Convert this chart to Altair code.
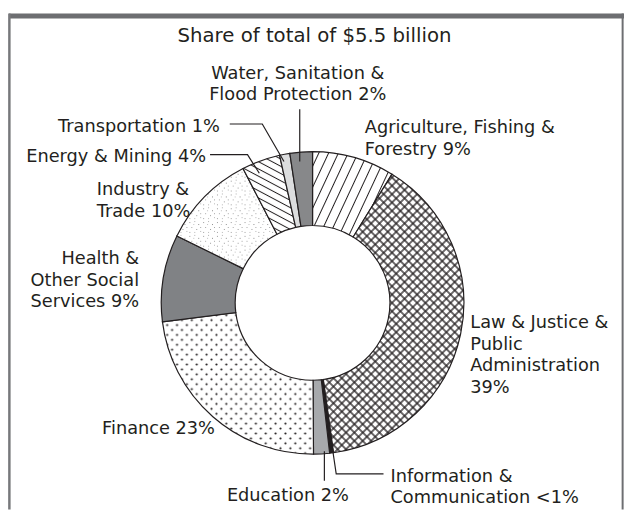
import altair as alt
import pandas as pd

# ---------------- data ----------------
sectors = [
    "Agriculture, Fishing & Forestry",
    "Law & Justice & Public Administration",
    "Information & Communication",
    "Education",
    "Finance",
    "Health & Other Social Services",
    "Industry & Trade",
    "Energy & Mining",
    "Transportation",
    "Water, Sanitation & Flood Protection",
]
shares = [8.8, 39.0, 0.4, 1.7, 23.1, 9.3, 10.1, 4.1, 1.1, 2.4]

# ---------------- styles ----------------
INK = "#231f20"
slice_fills = [
    "url(#pAgri) #ffffff",
    "url(#pCross) #8a8a8a",
    INK,
    "#a7a9ac",
    "url(#pDots) #eeeeee",
    "#808285",
    "url(#pStip) #f2f2f2",
    "url(#pEnergy) #ffffff",
    "#dcddde",
    "#87888a",
]

PATTERN_DEFS = """
<svg width="0" height="0" style="position:absolute;left:0;top:0;width:0;height:0" aria-hidden="true">
<defs>
<pattern id="pAgri" patternUnits="userSpaceOnUse" width="9" height="9" patternTransform="rotate(25)">
<rect width="9" height="9" fill="#ffffff"/>
<line x1="4.5" y1="-1" x2="4.5" y2="10" stroke="#231f20" stroke-width="1"/>
</pattern>
<pattern id="pEnergy" patternUnits="userSpaceOnUse" width="6.5" height="6.5" patternTransform="rotate(28)">
<rect width="6.5" height="6.5" fill="#ffffff"/>
<line x1="-1" y1="3.25" x2="7.5" y2="3.25" stroke="#231f20" stroke-width="1"/>
</pattern>
<pattern id="pCross" patternUnits="userSpaceOnUse" width="6" height="6" patternTransform="rotate(45)">
<rect width="6" height="6" fill="#ffffff"/>
<line x1="3" y1="-1" x2="3" y2="7" stroke="#231f20" stroke-width="1.35"/>
<line x1="-1" y1="3" x2="7" y2="3" stroke="#231f20" stroke-width="1.35"/>
</pattern>
<pattern id="pDots" patternUnits="userSpaceOnUse" width="10" height="10">
<rect width="10" height="10" fill="#ffffff"/>
<circle cx="2.5" cy="2.5" r="1.1" fill="#231f20"/>
<circle cx="7.5" cy="7.5" r="1.1" fill="#231f20"/>
</pattern>
<pattern id="pStip" patternUnits="userSpaceOnUse" width="14" height="14">
<rect width="14" height="14" fill="#ffffff"/>
<rect x="1" y="2" width="1" height="1" fill="#9a9a9a"/>
<rect x="6" y="1" width="1" height="1" fill="#b0b0b0"/>
<rect x="10" y="4" width="1" height="1" fill="#8f8f8f"/>
<rect x="3" y="7" width="1" height="1" fill="#a8a8a8"/>
<rect x="8" y="9" width="1" height="1" fill="#9a9a9a"/>
<rect x="12" y="11" width="1" height="1" fill="#b5b5b5"/>
<rect x="1" y="12" width="1" height="1" fill="#a0a0a0"/>
<rect x="5" y="4" width="1" height="1" fill="#c0c0c0"/>
<rect x="12" y="7" width="1" height="1" fill="#a5a5a5"/>
<rect x="6" y="12" width="1" height="1" fill="#b8b8b8"/>
</pattern>
</defs>
</svg>
"""

try:
    import altair.utils.html as _ah
    _std = _ah.TEMPLATES["standard"]
    _orig_render = _std.render

    def _render(*args, **kwargs):
        html = _orig_render(*args, **kwargs)
        return html.replace("<body>", "<body>\n" + PATTERN_DEFS, 1)

    _std.render = _render
except Exception:
    pass

# ---------------- layout ----------------
W, H = 624, 503
CX, CY = 308, 293.5
R_OUT, R_IN = 153.5, 78.5

title_text = "Share of total of $5.5 billion"
title_pos = (310, 23)

label_text = [
    "Water, Sanitation &\nFlood Protection 2%",
    "Transportation 1%",
    "Energy & Mining 4%",
    "Agriculture, Fishing &\nForestry 9%",
    "Industry &\nTrade 10%",
    "Health &\nOther Social\nServices 9%",
    "Law & Justice &\nPublic\nAdministration\n39%",
    "Finance 23%",
    "Education 2%",
    "Information &\nCommunication <1%",
]
# x anchor and top of first line (canvas pixels)
label_x = [293, 214, 200, 361, 89, 132, 468, 209, 283, 387]
label_y = [52, 106, 137, 107, 170, 240, 305, 413, 481, 461]
label_align = ["center", "right", "right", "left", "left", "right",
               "left", "right", "center", "left"]

leader_group = ["w", "w", "t", "t", "t", "e", "e", "e", "ed", "ed", "i", "i", "i"]
leader_order = [0, 1, 0, 1, 2, 0, 1, 2, 0, 1, 0, 1, 2]
leader_x = [295, 295, 224, 257, 279, 204, 242, 254, 320, 320, 328, 332, 380]
leader_y = [97, 150, 112, 112, 150, 143, 143, 162, 444, 474, 440, 467, 467]

# ---------------- chart ----------------
df = pd.DataFrame({"sector": sectors, "share": shares, "idx": list(range(len(sectors)))})
labels = pd.DataFrame({"text": label_text, "x": label_x, "y": label_y, "align": label_align})
leaders = pd.DataFrame({"g": leader_group, "o": leader_order, "x": leader_x, "y": leader_y})

frame_top = alt.Chart(pd.DataFrame({"a": [0]})).mark_rect(color="#6d6e71").encode(
    x=alt.value(0), x2=alt.value(W), y=alt.value(0), y2=alt.value(5)
)
frame_left = alt.Chart(pd.DataFrame({"a": [0]})).mark_rule(color="#77787b", strokeWidth=2.5).encode(
    x=alt.value(0.4), y=alt.value(0), y2=alt.value(H)
)
frame_right = alt.Chart(pd.DataFrame({"a": [0]})).mark_rule(color="#6d6e71", strokeWidth=2).encode(
    x=alt.value(622.6), y=alt.value(0), y2=alt.value(H)
)

donut = alt.Chart(df).mark_arc(
    radius=R_OUT, radius2=R_IN, stroke=INK, strokeWidth=1.2
).encode(
    theta=alt.Theta("share:Q", stack=True),
    order=alt.Order("idx:Q"),
    color=alt.Color("sector:N", scale=alt.Scale(domain=sectors, range=slice_fills), legend=None),
    x=alt.value(CX),
    y=alt.value(CY),
)

lead = alt.Chart(leaders).mark_line(color=INK, strokeWidth=1.2).encode(
    x=alt.X("x:Q", scale=None),
    y=alt.Y("y:Q", scale=None),
    detail="g:N",
    order="o:Q",
)

FONT = "DejaVu Sans"


def text_layer(al):
    return alt.Chart(labels).transform_filter(alt.datum.align == al).mark_text(
        align=al, baseline="top", font=FONT, fontSize=18, color=INK,
        lineBreak="\n", lineHeight=22
    ).encode(
        x=alt.X("x:Q", scale=None),
        y=alt.Y("y:Q", scale=None),
        text="text:N",
    )


title = alt.Chart(pd.DataFrame({"t": [title_text]})).mark_text(
    align="center", baseline="middle", font=FONT, fontSize=20, color=INK
).encode(x=alt.value(title_pos[0]), y=alt.value(title_pos[1]), text="t:N")

chart = alt.layer(
    frame_top, frame_left, frame_right, donut, lead,
    text_layer("left"), text_layer("center"), text_layer("right"), title,
).properties(
    width=W, height=H, padding=0, background="#ffffff"
).configure_view(stroke=None)

chart.save("out.html", embed_options={"renderer": "svg", "actions": False})
